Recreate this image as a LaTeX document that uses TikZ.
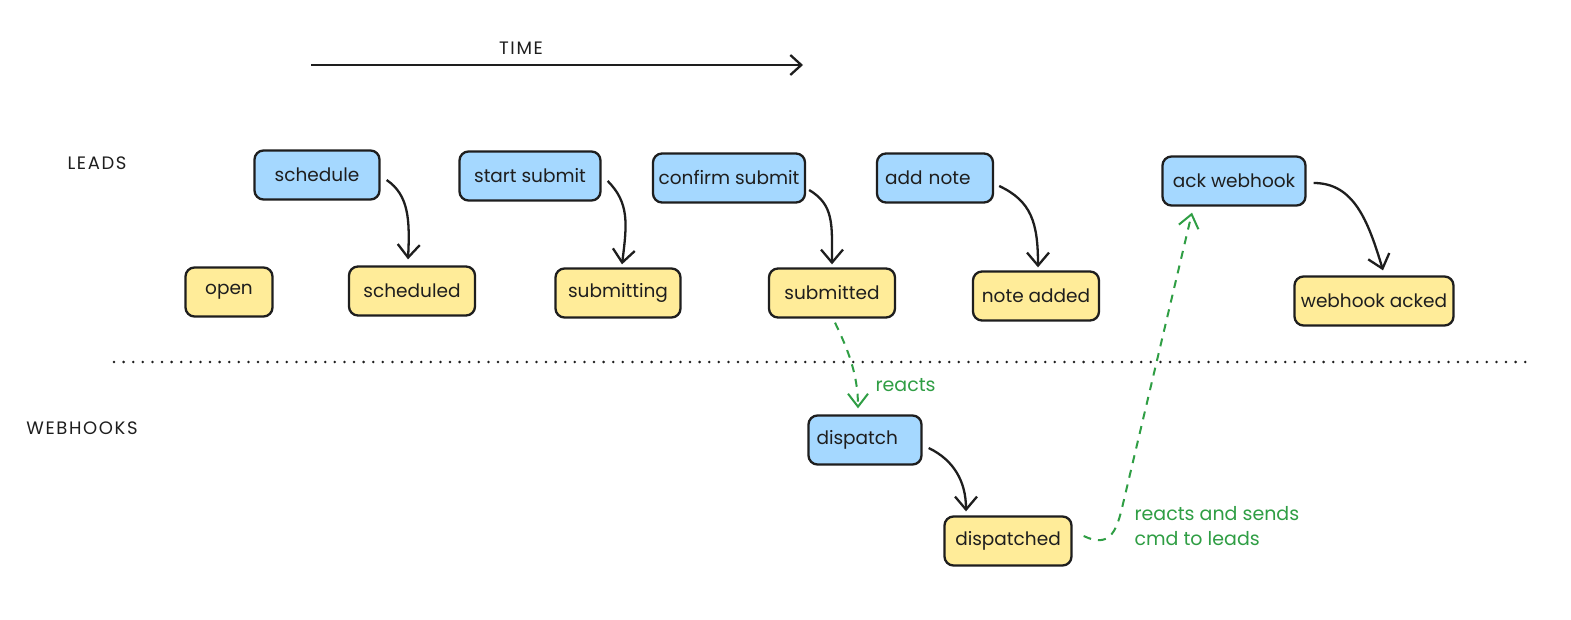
\documentclass[tikz,border=0pt]{standalone}
\usepackage{fontspec}
\setmainfont{Poppins}
\newfontfamily\lanefont[LetterSpace=9]{Poppins}
\usetikzlibrary{arrows.meta,calc}
\definecolor{ink}{HTML}{1E1E1E}
\definecolor{bluef}{HTML}{A5D8FF}
\definecolor{yelf}{HTML}{FFEC99}
\definecolor{grn}{HTML}{2F9E44}
\begin{document}
\begin{tikzpicture}[x=1pt,y=-1pt,
 box/.style={draw=ink, line width=2.3pt, rounded corners=9pt, minimum height=49pt, inner sep=0pt, font=\fontsize{18.5}{21}\selectfont, text=ink},
 cmd/.style={box, fill=bluef},
 evt/.style={box, fill=yelf},
 lane/.style={font=\lanefont\fontsize{18}{20}\selectfont, text=ink},
 arr/.style={draw=ink, line width=2.3pt, -{Straight Barb[length=13pt,width=22pt,line width=2.3pt]}},
 tarr/.style={draw=ink, line width=2.3pt, -{Straight Barb[length=11pt,width=20pt,line width=2.3pt]}},
 garr/.style={draw=grn, line width=2pt, dash pattern=on 8pt off 7pt, -{Straight Barb[length=13pt,width=20pt,line width=2pt]}},
 glabel/.style={text=grn, font=\fontsize{19}{25}\selectfont}]
\fill[white] (0,0) rectangle (1571,620);
\useasboundingbox (0,0) rectangle (1571,620);

\node[lane] (time) at (521,48) {TIME};
\node[lane] (leads) at (97,163) {LEADS};
\node[lane] (webhooks) at (82,428) {WEBHOOKS};
\coordinate (t0) at (311,65);
\coordinate (t1) at (803,65);
\coordinate (d0) at (114,362);
\coordinate (d1) at (1530,362);
\draw[tarr] (t0) -- (t1);
\draw[ink, line width=2.8pt, line cap=round, dash pattern=on 0pt off 9.6pt] (d0) -- (d1);

\node[cmd, minimum width=125pt] (schedule) at (317,175) {schedule};
\node[cmd, minimum width=141pt] (startsubmit) at (530,176) {start submit};
\node[cmd, minimum width=152pt] (confirmsubmit) at (729,178) {confirm submit};
\node[cmd, text width=100pt, align=left, inner xsep=8pt] (addnote) at (935,178) {add note};
\node[cmd, minimum width=143pt] (ack) at (1234,181) {ack webhook};
\node[evt, minimum width=87pt] (open) at (229,292) {open};
\node[evt, minimum width=126pt] (scheduled) at (412,291) {scheduled};
\node[evt, minimum width=125pt] (submitting) at (618,293) {submitting};
\node[evt, minimum width=126pt] (submitted) at (832,293) {submitted};
\node[evt, minimum width=126pt] (noteadded) at (1036,296) {note added};
\node[evt, minimum width=159pt] (acked) at (1374,301) {webhook acked};
\node[cmd, text width=97pt, align=left, inner xsep=8pt] (dispatch) at (865,440) {dispatch};
\node[evt, minimum width=127pt] (dispatched) at (1008,541) {dispatched};

\draw[arr] ($(schedule.east)+(6,5)$) .. controls +(22,15) and +(2,-40) .. ($(scheduled.north)+(-4,-6)$);
\draw[arr] ($(startsubmit.east)+(6,5)$) .. controls +(22,22) and +(5,-40) .. ($(submitting.north)+(4,-3)$);
\draw[arr] ($(confirmsubmit.east)+(3,12)$) .. controls +(25,15) and +(0,-40) .. ($(submitted.north)+(0,-3)$);
\draw[arr] ($(addnote.east)+(5,8)$) .. controls +(32,15) and +(0,-45) .. ($(noteadded.north)+(2,-3)$);
\draw[arr] ($(ack.east)+(7,2)$) .. controls +(40,0) and +(-15,-50) .. ($(acked.north)+(9,-5)$);
\draw[arr] ($(dispatch.east)+(6,8)$) .. controls +(25,12) and +(0,-30) .. ($(dispatched.north)+(-42,-4)$);

\draw[garr] ($(submitted.south)+(3,4)$) .. controls +(12,25) and +(0,-35) .. ($(dispatch.north)+(-7,-6)$);
\node[glabel, anchor=west] (reacts) at (872,385) {reacts};
\coordinate (bend) at (1122,508);
\draw[garr] ($(dispatched.east)+(11,-5)$) .. controls +(25,12) and +(-6,25) .. (bend) -- ($(ack.south)+(-42,6)$);
\node[glabel, anchor=north west, align=left] (rs) at (1131,503) {reacts and sends\\cmd to leads};
\end{tikzpicture}
\end{document}
